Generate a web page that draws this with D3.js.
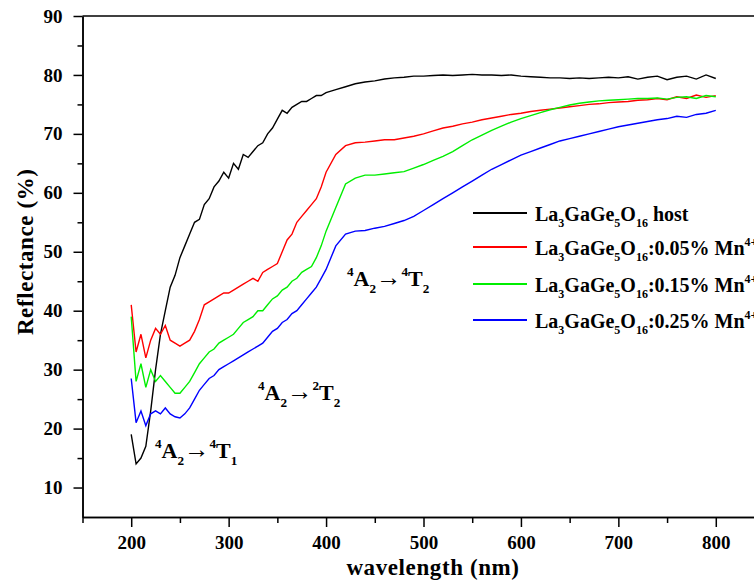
<!DOCTYPE html>
<html lang="en">
<head>
    <meta charset="UTF-8">
    <title>Reflectance</title>
    <script src="https://d3js.org/d3.v7.min.js"></script>
    <style>
        html, body{
            margin:0;
            background:#fff;
        }
        #chart{
            width:754px;
            height:588px;
            overflow:hidden;
        }
        svg text, svg tspan{
            font-family:"Liberation Serif","Times New Roman",Times,"DejaVu Serif",serif !important;
            font-weight:bold;
            fill:#000;
        }
        .axis path, .axis line{
            stroke:#000;
            stroke-width:1.5;
        }
        .line{
            fill:none;
            stroke-width:1.4;
        }
        .title{
            letter-spacing:0.6px;
        }
    </style>
</head>
<body>
<div id="chart"></div>
<script>
    // wavelengths (nm): 5 nm steps to 400, then 10 nm steps
    var wavelength = [200,205,210,215,220,225,230,235,240,245,250,255,260,265,270,275,280,285,290,295,
        300,305,310,315,320,325,330,335,340,345,350,355,360,365,370,375,380,385,390,395,400,
        410,420,430,440,450,460,470,480,490,500,510,520,530,540,550,560,570,580,590,600,
        610,620,630,640,650,660,670,680,690,700,710,720,730,740,750,760,770,780,790,800];

    var host = [19,14,15,17,23,30,36,40,44,46,49,51,53,55,55.5,58,59,61,62,63.5,
        62.5,65,64,66.5,66,67,68,68.5,70,71,72.5,74,73.5,74.5,75,75.5,75.5,76,76.5,76.5,77,
        77.5,78,78.5,78.8,79,79.3,79.5,79.6,79.8,79.8,79.9,80,79.9,80,80.1,80,80,79.9,80,79.8,
        79.7,79.6,79.5,79.5,79.4,79.5,79.4,79.5,79.6,79.5,79.7,79.3,79.6,79.8,79.2,79.6,79.8,79.3,80,79.4];

    var mn005 = [41,33,36,32,35,37,36,37.5,35,34.5,34,34.5,35,36.5,38.5,41,41.5,42,42.5,43,
        43,43.5,44,44.5,45,45.5,45,46.5,47,47.5,48,50,52,53,55,56,57,58,59,61,63.5,
        66.5,68,68.5,68.6,68.8,69,69,69.3,69.6,70,70.5,71,71.3,71.7,72,72.4,72.7,73,73.3,73.5,
        73.8,74,74.2,74.4,74.6,74.8,75,75.1,75.3,75.4,75.5,75.7,75.8,76,75.8,76.3,76,76.6,76.2,76.5];

    var mn015 = [39,28,31,27,30,28,29,28,27,26,26,27,28,29.5,31,32,33,33.5,34.5,35,
        35.5,36,37,38,38.5,39,40,40,41,42,42.5,43.5,44,45,45.5,46.5,47,47.5,49,51,53.5,
        57.5,61.5,62.5,63,63,63.2,63.4,63.6,64.2,64.8,65.5,66.2,67,68,69,69.8,70.6,71.3,72,72.6,
        73.1,73.6,74.1,74.5,74.9,75.2,75.4,75.6,75.7,75.8,75.9,76,76,76.1,75.9,76.2,76.3,76,76.5,76.3];

    var mn025 = [28.5,21,23,20.5,22.5,23,22.5,23.5,22.5,22,21.8,22.5,23.5,25,26.5,27.5,28.5,29,30,30.5,
        31,31.5,32,32.5,33,33.5,34,34.5,35.5,36.5,37,38,38.5,39.5,40,41,42,43,44,45.5,47,
        51,53,53.5,53.6,54,54.3,54.8,55.3,56,57,58,59,60,61,62,63,64,64.8,65.6,66.4,
        67,67.6,68.2,68.8,69.2,69.6,70,70.4,70.8,71.2,71.5,71.8,72.1,72.4,72.6,73,72.8,73.3,73.5,74];

    var seriesValues = [host, mn005, mn015, mn025];
    var seriesColors = ["#000000", "#ff0000", "#00ee00", "#0000ff"];
    var seriesDopant = [" host", ":0.05% Mn", ":0.15% Mn", ":0.25% Mn"];

    var xTicks = [200,300,400,500,600,700,800];
    var xMinorTicks = [150,250,350,450,550,650,750,850];
    var yTicks = [10,20,30,40,50,60,70,80,90];
    var yMinorTicks = [15,25,35,45,55,65,75,85];

    var margin = {top: 16, left: 82.5},
        width = 682,   // right edge falls just outside the picture
        height = 501;

    var xScale = d3.scaleLinear().domain([150, 850]).range([0, width]);
    var yScale = d3.scaleLinear().domain([5, 90]).range([height, 0]);

    var svg = d3.select("#chart").append("svg")
        .attr("width", 754)
        .attr("height", 588)
        .append("g")
        .attr("transform", "translate(" + margin.left + "," + margin.top + ")");

    // frame top line
    svg.append("line")
        .attr("x1", 0).attr("x2", width)
        .attr("y1", 0).attr("y2", 0)
        .attr("stroke", "#000").attr("stroke-width", 1.5);

    // x axis, major + minor
    svg.append("g")
        .attr("class", "x axis")
        .attr("transform", "translate(0," + height + ")")
        .call(d3.axisBottom(xScale).tickValues(xTicks).tickSize(10).tickSizeOuter(0).tickPadding(9))
        .attr("font-family", null)
        .selectAll("text").attr("font-size", 19);
    svg.append("g")
        .attr("class", "x axis")
        .attr("transform", "translate(0," + height + ")")
        .call(d3.axisBottom(xScale).tickValues(xMinorTicks).tickSize(6).tickSizeOuter(0).tickFormat(""));

    // y axis, major + minor
    svg.append("g")
        .attr("class", "y axis")
        .call(d3.axisLeft(yScale).tickValues(yTicks).tickSize(9).tickSizeOuter(0).tickPadding(11))
        .attr("font-family", null)
        .selectAll("text").attr("font-size", 19);
    svg.append("g")
        .attr("class", "y axis")
        .call(d3.axisLeft(yScale).tickValues(yMinorTicks).tickSize(5).tickSizeOuter(0).tickFormat(""));

    // axis titles
    svg.append("text")
        .attr("class", "title")
        .attr("x", 350.5)
        .attr("y", height + 58)
        .attr("text-anchor", "middle")
        .attr("font-size", 23)
        .text("wavelength (nm)");

    svg.append("text")
        .attr("class", "title")
        .attr("transform", "translate(" + (-50) + "," + yScale(50) + ") rotate(-90)")
        .attr("text-anchor", "middle")
        .attr("font-size", 23)
        .text("Reflectance (%)");

    // the curves
    var valueLine = d3.line()
        .x(function(d, i) { return xScale(wavelength[i]); })
        .y(function(d) { return yScale(d); })
        .curve(d3.curveLinear);

    seriesValues.forEach(function(vals, k) {
        svg.append("path")
            .datum(vals)
            .attr("class", "line")
            .attr("stroke", seriesColors[k])
            .attr("d", valueLine);
    });

    // rich text helper: parts = [[text, "sub"|"sup"|"", arrow], ...]
    function richText(g, x, y, size, parts) {
        var t = g.append("text").attr("x", x).attr("y", y).attr("font-size", size);
        var shift = 0;
        parts.forEach(function(p) {
            var want = p[1] === "sub" ? size * 0.32 : (p[1] === "sup" ? -size * 0.45 : 0);
            t.append("tspan")
                .attr("dy", want - shift)
                .attr("font-size", p[1] ? size * 0.6 : (p[2] ? size * 1.15 : size))
                .style("font-weight", p[2] ? "normal" : null)
                .text(p[0]);
            shift = want;
        });
        return t;
    }

    // legend
    var legend = svg.append("g").attr("transform", "translate(" + (473 - margin.left) + ",0)");
    var legendY = [213, 247, 284, 320];
    seriesColors.forEach(function(c, k) {
        var ly = legendY[k] - margin.top;
        legend.append("line")
            .attr("x1", 0).attr("x2", 54)
            .attr("y1", ly).attr("y2", ly)
            .attr("stroke", c).attr("stroke-width", 1.8);
        var parts = [["La", ""], ["3", "sub"], ["GaGe", ""], ["5", "sub"], ["O", ""], ["16", "sub"], [seriesDopant[k], ""]];
        if (k > 0) parts.push(["4+", "sup"]);
        richText(legend, 62, ly + 8, 20, parts);
    });

    // transition labels
    richText(svg, 155 - margin.left, 458 - margin.top, 22,
        [["4", "sup"], ["A", ""], ["2", "sub"], ["\u2192", "", true], ["4", "sup"], ["T", ""], ["1", "sub"]]);
    richText(svg, 258 - margin.left, 400 - margin.top, 22,
        [["4", "sup"], ["A", ""], ["2", "sub"], ["\u2192", "", true], ["2", "sup"], ["T", ""], ["2", "sub"]]);
    richText(svg, 347 - margin.left, 286 - margin.top, 22,
        [["4", "sup"], ["A", ""], ["2", "sub"], ["\u2192", "", true], ["4", "sup"], ["T", ""], ["2", "sub"]]);
</script>
</body>
</html>
